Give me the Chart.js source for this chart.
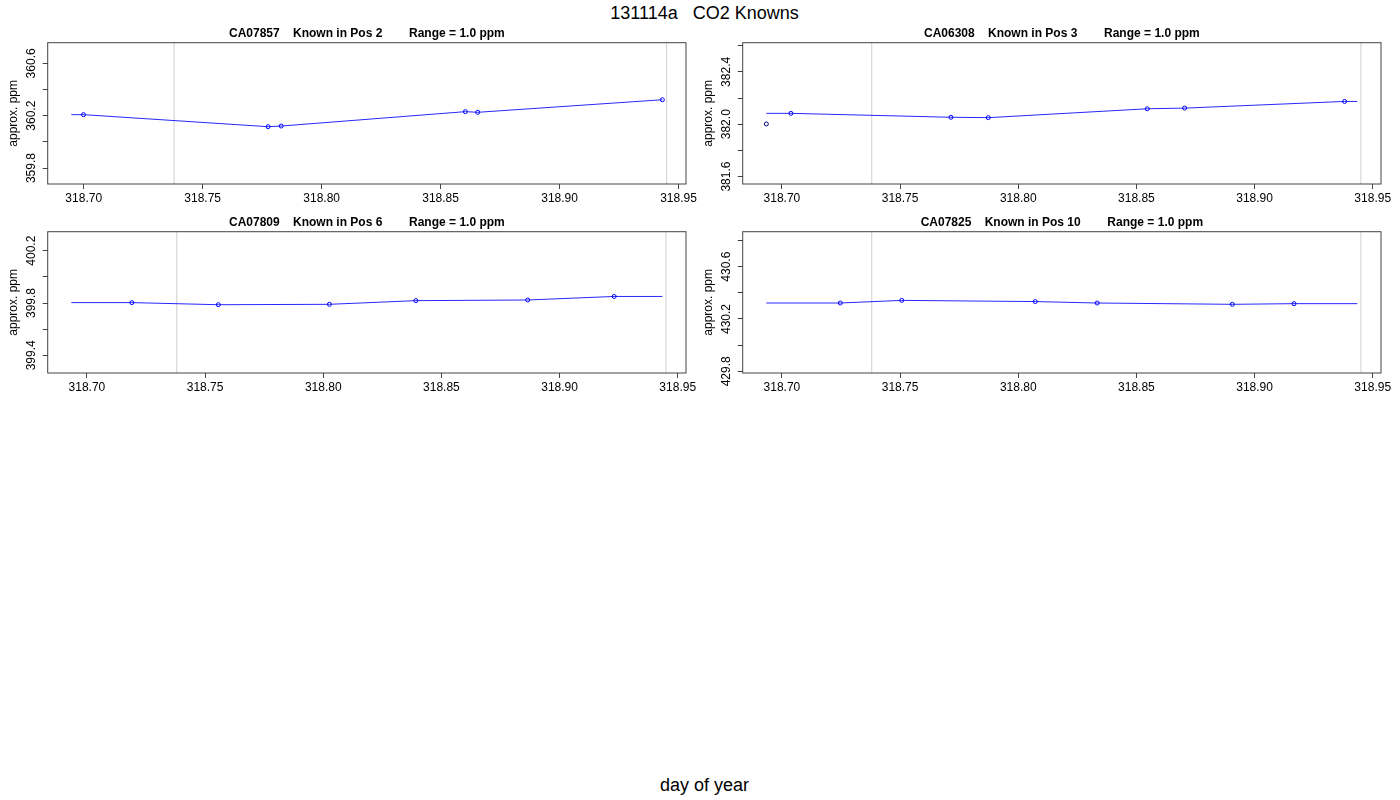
<!DOCTYPE html>
<html>
<head>
<meta charset="utf-8">
<script src="https://cdn.jsdelivr.net/npm/chart.js@4.4.1/dist/chart.umd.min.js"></script>
<style>
body { margin: 0; width: 1400px; height: 800px; background: #fff; position: relative; overflow: hidden;
       font-family: "Liberation Sans", Arial, sans-serif; color: #000; }
canvas { position: absolute; }
.label { position: absolute; left: 0; width: 1409px; text-align: center; font-size: 18px; line-height: 18px; }
</style>
</head>
<body>
<div class="label" style="top:4px">131114a&nbsp;&nbsp;&nbsp;CO2 Knowns</div>
<canvas id="p1" width="700" height="190" style="left:0px;top:22px"></canvas>
<canvas id="p2" width="700" height="190" style="left:695px;top:22px"></canvas>
<canvas id="p3" width="700" height="190" style="left:0px;top:211.3px"></canvas>
<canvas id="p4" width="700" height="190" style="left:695px;top:211.3px"></canvas>
<div class="label" style="top:776px">day of year</div>
<script>
// panel titles
const titles = [
    'CA07857    Known in Pos 2        Range = 1.0 ppm',
    'CA06308    Known in Pos 3        Range = 1.0 ppm',
    'CA07809    Known in Pos 6        Range = 1.0 ppm',
    'CA07825    Known in Pos 10        Range = 1.0 ppm'
];

// Pos 2
const days1 = [318.6999, 318.7775, 318.7830, 318.8604, 318.8656, 318.9432];
const ppm1 = [360.208, 360.116, 360.121, 360.231, 360.226, 360.322];
// Pos 3 (first sample rejected)
const days2 = [318.7038, 318.7715, 318.7873, 318.8546, 318.8704, 318.9381];
const ppm2 = [382.083, 382.053, 382.050, 382.118, 382.123, 382.174];
const rejDays2 = [318.6934];
const rejPpm2 = [382.002];
// Pos 6
const days3 = [318.7190, 318.7556, 318.8026, 318.8392, 318.8865, 318.9231];
const ppm3 = [399.803, 399.787, 399.790, 399.818, 399.823, 399.850];
// Pos 10
const days4 = [318.7247, 318.7507, 318.8072, 318.8334, 318.8906, 318.9167];
const ppm4 = [430.322, 430.342, 430.333, 430.322, 430.312, 430.317];

// time span of the fitted line and middle of each 1.0 ppm window
const lineStart = [318.6948, 318.6934, 318.6934, 318.6934];
const lineEnd = [318.9432, 318.9435, 318.9435, 318.9435];
const yCenter = [360.218, 382.083, 399.805, 430.327];
const yRange = 1.0;
// grey markers
const markDays = [318.738, 318.945];

const font = '"Liberation Sans", Arial, sans-serif';

const framePlugin = {
    id: 'frame',
    beforeDatasetsDraw(chart) {
        const {ctx, chartArea: a, scales: {x}} = chart;
        ctx.save();
        ctx.strokeStyle = '#cfcfcf';
        ctx.lineWidth = 1;
        markDays.forEach((d) => {
            const px = x.getPixelForValue(d);
            ctx.beginPath();
            ctx.moveTo(px, a.top);
            ctx.lineTo(px, a.bottom);
            ctx.stroke();
        });
        ctx.restore();
    },
    afterDraw(chart) {
        const {ctx, chartArea: a} = chart;
        ctx.save();
        ctx.strokeStyle = '#444';
        ctx.lineWidth = 1;
        ctx.strokeRect(a.left, a.top, a.right - a.left, a.bottom - a.top);
        ctx.restore();
    }
};

function makePanel(id, title, days, ppm, rejDays, rejPpm, start, end, center) {
    const pad = (end - start) * 0.04;
    const half = yRange / 2 * 1.08;
    const line = [{x: start, y: ppm[0]}]
        .concat(days.map((d, i) => ({x: d, y: ppm[i]})))
        .concat([{x: end, y: ppm[ppm.length - 1]}]);
    const pts = days.map((d, i) => ({x: d, y: ppm[i]}));
    const rej = rejDays.map((d, i) => ({x: d, y: rejPpm[i]}));

    new Chart(document.getElementById(id), {
        type: 'scatter',
        data: {
            datasets: [
                {
                    data: line,
                    showLine: true,
                    borderColor: 'rgba(0,0,255,0.85)',
                    borderWidth: 1,
                    pointRadius: 0,
                    tension: 0
                },
                {
                    data: pts,
                    borderColor: '#0000ff',
                    backgroundColor: 'rgba(0,0,0,0)',
                    borderWidth: 1,
                    pointRadius: 2
                },
                {
                    data: rej,
                    borderColor: '#000080',
                    backgroundColor: 'rgba(0,0,0,0)',
                    borderWidth: 1,
                    pointRadius: 2
                }
            ]
        },
        options: {
            responsive: false,
            animation: false,
            events: [],
            layout: {padding: {left: 0, right: 14, top: 0, bottom: 0}},
            plugins: {
                legend: {display: false},
                tooltip: {enabled: false},
                title: {
                    display: true,
                    text: title,
                    fullSize: false,
                    color: '#000',
                    font: {family: font, size: 12, weight: 'bold'},
                    padding: {top: 4.8, bottom: 1.5}
                }
            },
            scales: {
                x: {
                    type: 'linear',
                    min: start - pad,
                    max: end + pad,
                    grid: {drawOnChartArea: false, tickLength: 5, color: '#444'},
                    border: {display: false},
                    ticks: {
                        stepSize: 0.05,
                        includeBounds: false,
                        autoSkip: false,
                        maxRotation: 0,
                        padding: 2,
                        color: '#000',
                        font: {family: font, size: 12},
                        callback: (v) => v.toFixed(2)
                    },
                    afterFit: (s) => { s.height = 28; }
                },
                y: {
                    min: center - half,
                    max: center + half,
                    grid: {drawOnChartArea: false, tickLength: 5, color: '#444'},
                    border: {display: false},
                    title: {
                        display: true,
                        text: 'approx. ppm',
                        color: '#000',
                        font: {family: font, size: 12},
                        padding: {top: 6.8, bottom: 0}
                    },
                    ticks: {
                        stepSize: 0.2,
                        includeBounds: false,
                        autoSkip: false,
                        minRotation: 90,
                        maxRotation: 90,
                        crossAlign: 'center',
                        padding: -4.3,
                        color: '#000',
                        font: {family: font, size: 12},
                        callback: (v, i) => (i % 2 === 0 ? v.toFixed(1) : '')
                    },
                    afterFit: (s) => { s.width = 47.7; }
                }
            }
        },
        plugins: [framePlugin]
    });
}

makePanel('p1', titles[0], days1, ppm1, [], [], lineStart[0], lineEnd[0], yCenter[0]);
makePanel('p2', titles[1], days2, ppm2, rejDays2, rejPpm2, lineStart[1], lineEnd[1], yCenter[1]);
makePanel('p3', titles[2], days3, ppm3, [], [], lineStart[2], lineEnd[2], yCenter[2]);
makePanel('p4', titles[3], days4, ppm4, [], [], lineStart[3], lineEnd[3], yCenter[3]);
</script>
</body>
</html>
